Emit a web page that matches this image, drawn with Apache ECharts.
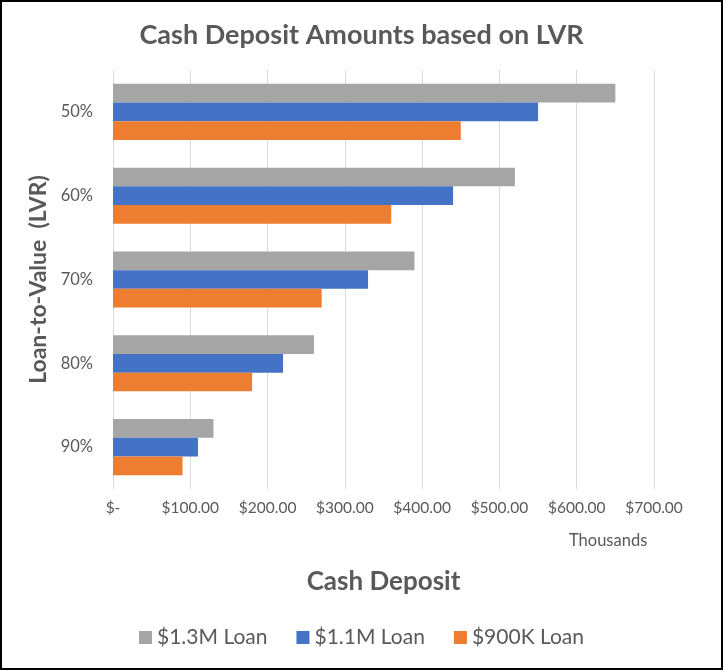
<!DOCTYPE html>
<html><head><meta charset="utf-8">
<script src="https://cdn.jsdelivr.net/npm/echarts@6/dist/echarts.min.js"></script>
<style>html,body{margin:0;padding:0;background:#fff;}#c{width:723px;height:670px;}</style>
</head><body><div id="c"></div>
<script>
const categories = ['50%', '60%', '70%', '80%', '90%'];
const seriesNames = ['$1.3M Loan', '$1.1M Loan', '$900K Loan'];
const loan13M = [650, 520, 390, 260, 130];
const loan11M = [550, 440, 330, 220, 110];
const loan900K = [450, 360, 270, 180, 90];
const xTicks = [0, 100, 200, 300, 400, 500, 600, 700];
const colors = ['#A5A5A5', '#4472C4', '#ED7D31'];
const FONT = 'Lato';
const values = [loan13M, loan11M, loan900K];

const chart = echarts.init(document.getElementById('c'), null, {renderer: 'canvas'});
chart.setOption({
  animation: false,
  textStyle: {fontFamily: FONT},
  title: [
    {text: 'Cash Deposit Amounts based on LVR', left: 'center', top: 17,
     textStyle: {fontFamily: FONT, fontSize: 27, fontWeight: 'bold', color: '#595959'}},
    {text: 'Thousands', left: 564, top: 527,
     textStyle: {fontFamily: FONT, fontSize: 16.5, fontWeight: 'normal', color: '#595959'}}
  ],
  graphic: [{type: 'rect', shape: {x: 1, y: 1, width: 721, height: 668},
    style: {fill: 'none', stroke: '#000', lineWidth: 2}, silent: true}],
  legend: {
    bottom: 17, left: 'center', itemWidth: 13, itemHeight: 13, itemGap: 29, icon: 'rect',
    textStyle: {fontFamily: FONT, fontSize: 21, color: '#595959'},
    data: seriesNames
  },
  grid: {left: 113, right: 69, top: 70, bottom: 181, containLabel: false},
  xAxis: {
    type: 'value', min: xTicks[0], max: xTicks[xTicks.length - 1], interval: 100,
    axisLine: {show: false}, axisTick: {show: false},
    splitLine: {show: true, lineStyle: {color: '#D9D9D9', width: 1}},
    axisLabel: {margin: 11, fontFamily: FONT, fontSize: 15.5, color: '#595959',
      formatter: v => v === 0 ? '$-' : '$' + v.toFixed(2)},
    name: 'Cash Deposit', nameLocation: 'middle', nameGap: 80,
    nameTextStyle: {fontFamily: FONT, fontSize: 26, fontWeight: 'bold', color: '#595959'}
  },
  yAxis: {
    type: 'category', data: categories, inverse: true,
    axisLine: {show: false}, axisTick: {show: false},
    axisLabel: {margin: 20, fontFamily: FONT, fontSize: 16.5, color: '#595959'},
    name: 'Loan-to-Value  (LVR)', nameLocation: 'middle', nameGap: 62,
    nameTextStyle: {fontFamily: FONT, fontSize: 23, fontWeight: 'bold', color: '#595959'}
  },
  series: seriesNames.map((n, i) => ({
    name: n, type: 'bar', data: values[i], barGap: '0%', barCategoryGap: '33%',
    itemStyle: {color: colors[i]}
  }))
});
</script></body></html>
